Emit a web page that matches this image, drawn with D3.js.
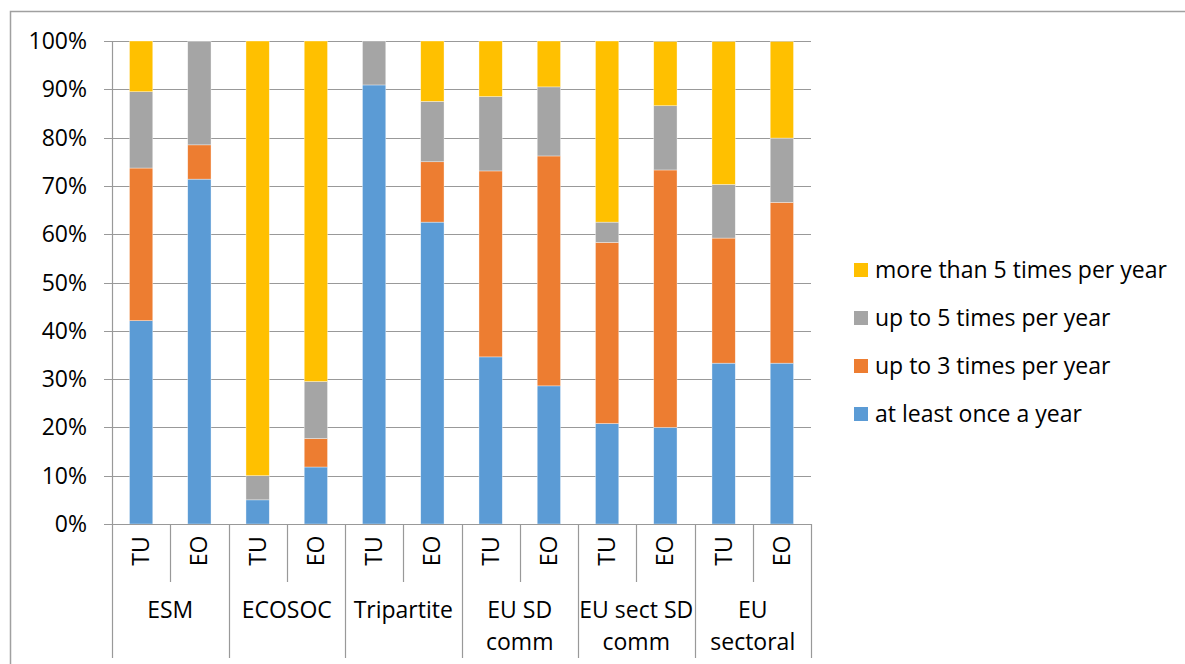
<!DOCTYPE html>
<html>
<head>
<meta charset="utf-8">
<script src="https://cdn.jsdelivr.net/npm/d3@7"></script>
<style>
  body { margin: 0; background: #fff; }
  svg { font-family: "Open Sans", "Noto Sans", sans-serif; }
</style>
</head>
<body>
<div id="chart"></div>
<script>
// groups and sub categories
const groups = ["ESM", "ECOSOC", "Tripartite", "EU SD comm", "EU sect SD comm", "EU sectoral"];
const groupLines = [["ESM"], ["ECOSOC"], ["Tripartite"], ["EU SD", "comm"], ["EU sect SD", "comm"], ["EU", "sectoral"]];
const subs = ["TU", "EO"];

// shares in %, one value per bar (ESM TU, ESM EO, ECOSOC TU, ...)
const atLeastOnce = [42.1, 71.4, 5.0, 11.8, 90.9, 62.5, 34.6, 28.6, 20.8, 20.0, 33.3, 33.3];
const upTo3 = [31.6, 7.1, 0, 5.9, 0, 12.5, 38.5, 47.6, 37.5, 53.3, 25.9, 33.3];
const upTo5 = [15.8, 21.4, 5.0, 11.8, 9.1, 12.5, 15.4, 14.3, 4.2, 13.3, 11.1, 13.3];
const moreThan5 = [10.5, 0, 90.0, 70.6, 0, 12.5, 11.5, 9.5, 37.5, 13.3, 29.6, 20.0];

const seriesNames = ["at least once a year", "up to 3 times per year", "up to 5 times per year", "more than 5 times per year"];
const colors = ["#5b9bd5", "#ed7d31", "#a5a5a5", "#ffc000"];
const yTicks = [0, 10, 20, 30, 40, 50, 60, 70, 80, 90, 100];

const W = 1185, H = 664;
const FS = 23;
const svg = d3.select("#chart").append("svg")
    .attr("width", W).attr("height", H);

// outer chart border (Excel frame, cut at right and bottom)
svg.append("path")
    .attr("d", `M10.5,${H} V11.5 H${W}`)
    .attr("fill", "none").attr("stroke", "#a0a0a0").attr("stroke-width", 1.5);

const pLeft = 112, pRight = 811, pTop = 41, pBottom = 524;

const bars = [];
groups.forEach((g, gi) => subs.forEach((s, si) => bars.push({ group: g, sub: s, i: gi * 2 + si })));

const x = d3.scaleBand().domain(bars.map(d => d.i)).range([pLeft, pRight]).paddingInner(0.6).paddingOuter(0.3);
const y = d3.scaleLinear().domain([0, 100]).range([pBottom, pTop]);

// gridlines
svg.append("g").selectAll("line").data(yTicks).join("line")
    .attr("x1", pLeft - 8).attr("x2", pRight)
    .attr("y1", d => Math.round(y(d)) + 0.5).attr("y2", d => Math.round(y(d)) + 0.5)
    .attr("stroke", "#999").attr("stroke-width", 1.2);

// y axis line
svg.append("line").attr("x1", pLeft + 0.5).attr("x2", pLeft + 0.5)
    .attr("y1", pTop).attr("y2", pBottom).attr("stroke", "#999").attr("stroke-width", 1.2);

// y tick labels
svg.append("g").selectAll("text").data(yTicks).join("text")
    .attr("x", 87).attr("y", d => y(d) + 8)
    .attr("text-anchor", "end").attr("font-size", FS).attr("fill", "#000")
    .text(d => d + "%");

// stacked bars
const rows = bars.map(b => ({
    i: b.i,
    s0: atLeastOnce[b.i], s1: upTo3[b.i], s2: upTo5[b.i], s3: moreThan5[b.i]
}));
const stack = d3.stack().keys(["s0", "s1", "s2", "s3"]);
const layers = stack(rows);

svg.append("g").selectAll("g").data(layers).join("g")
    .attr("fill", (d, k) => colors[k])
    .selectAll("rect").data(d => d).join("rect")
    .attr("x", d => x(d.data.i))
    .attr("width", x.bandwidth())
    .attr("y", d => y(Math.min(100, d[1])))
    .attr("height", d => Math.max(0, y(d[0]) - y(Math.min(100, d[1]))))
    .attr("stroke", "#fff").attr("stroke-width", 0.6).attr("stroke-opacity", 0.6);

// category axis
const step = (pRight - pLeft) / bars.length;
svg.append("line").attr("x1", pLeft).attr("x2", pRight)
    .attr("y1", pBottom + 0.5).attr("y2", pBottom + 0.5).attr("stroke", "#999").attr("stroke-width", 1.2);

// separators: short between TU/EO, long between groups
const seps = d3.range(bars.length + 1);
svg.append("g").selectAll("line").data(seps).join("line")
    .attr("x1", d => Math.round(pLeft + d * step) + 0.5)
    .attr("x2", d => Math.round(pLeft + d * step) + 0.5)
    .attr("y1", pBottom)
    .attr("y2", d => d % 2 === 0 ? 658 : 582)
    .attr("stroke", "#999").attr("stroke-width", 1.2);

// TU / EO rotated labels
svg.append("g").selectAll("text").data(bars).join("text")
    .attr("transform", d => `translate(${x(d.i) + x.bandwidth() / 2 + 8},551) rotate(-90)`)
    .attr("text-anchor", "middle").attr("font-size", FS).attr("fill", "#000")
    .text(d => d.sub);

// group labels
const gl = svg.append("g").selectAll("text").data(groupLines).join("text")
    .attr("x", (d, gi) => pLeft + (gi * 2 + 1) * step)
    .attr("y", 618)
    .attr("text-anchor", "middle").attr("font-size", FS).attr("fill", "#000");
gl.selectAll("tspan").data(d => d).join("tspan")
    .attr("x", function() { return this.parentNode.getAttribute("x"); })
    .attr("dy", (d, k) => k === 0 ? 0 : 32)
    .text(d => d);

// legend, top to bottom in reverse series order
const legendOrder = [3, 2, 1, 0];
const lg = svg.append("g").selectAll("g").data(legendOrder).join("g")
    .attr("transform", (d, k) => `translate(854,${263 + k * 48})`);
lg.append("rect").attr("width", 14).attr("height", 14).attr("fill", d => colors[d]);
lg.append("text").attr("x", 21).attr("y", 15).attr("font-size", FS).attr("fill", "#000")
    .text(d => seriesNames[d]);
</script>
</body>
</html>
